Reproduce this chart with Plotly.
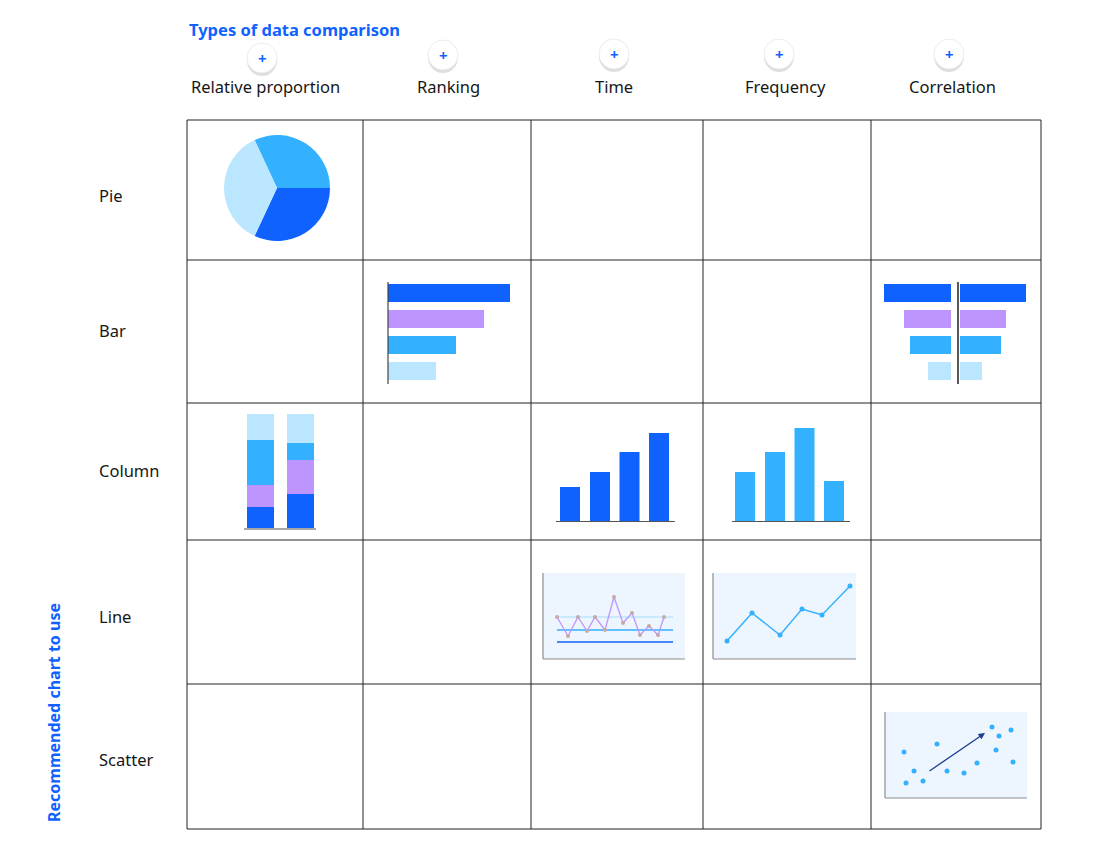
import plotly.graph_objects as go
import numpy as np

W, H = 1104, 864
OFF = 8  # page margin of the browser body
BLUE, PURPLE, MID, LIGHT = '#0f62fe', '#be95ff', '#33b1ff', '#bae6ff'
FONT = 'Noto Sans'

# header / rows
col_titles = ['Relative proportion', 'Ranking', 'Time', 'Frequency', 'Correlation']
col_centers = [265, 448, 614, 785, 952]
button_x = [262, 443, 614, 779, 949]
button_y = [58, 55, 54, 54, 54]
row_titles = ['Pie', 'Bar', 'Column', 'Line', 'Scatter']
row_centers = [195, 330, 470, 616, 759]
grid_x = [187, 363, 531, 703, 871, 1041]
grid_y = [120, 260, 403, 540, 684, 829]

# pie
pie_values = [115, 115, 130]
pie_colors = [MID, BLUE, LIGHT]

# ranking bars
rank_y = [293, 319, 345, 371]
rank_len = [122, 96, 68, 48]
bar_colors = [BLUE, PURPLE, MID, LIGHT]

# butterfly bars
fly_y = [293, 319, 345, 371]
fly_left = [67, 47, 41, 23]
fly_right = [66, 46, 41, 22]

# stacked columns (bottom -> top)
stack_x = [260.5, 300.5]
stack_heights = {
    BLUE: [21, 34],
    PURPLE: [22, 34],
    MID: [45, 17],
    LIGHT: [26, 29],
}

# time columns
time_x = [570, 600, 629.5, 659]
time_h = [34, 49, 69, 88]
# frequency columns
freq_x = [745, 775, 804.5, 834]
freq_h = [49, 69, 93, 40]

# line (time)
lt_x = [557, 568, 578, 587, 595, 605, 614, 623, 632, 640, 649, 658, 664]
lt_y = [617, 636, 617, 631, 617, 630, 597, 623, 613, 635, 626, 635, 617]
# line (frequency)
lf_x = [727, 752, 780, 802, 822, 850]
lf_y = [641, 613, 635, 609, 615, 586]

# scatter
sc_x = [904, 914, 906, 923, 937, 947, 964, 977, 992, 999, 996, 1011, 1013]
sc_y = [752, 771, 783, 781, 744, 771, 773, 763, 727, 736, 750, 730, 762]

fig = go.Figure()

fig.add_trace(go.Pie(values=pie_values, marker=dict(colors=pie_colors),
                     sort=False, direction='clockwise', rotation=335,
                     textinfo='none', hoverinfo='skip', showlegend=False,
                     domain=dict(x=[(224 - OFF) / W, (330 - OFF) / W],
                                 y=[1 - (241 - OFF) / H, 1 - (135 - OFF) / H])))

fig.add_trace(go.Bar(orientation='h', y=rank_y, x=rank_len, base=388, width=18,
                     marker=dict(color=bar_colors, line_width=0)))
fig.add_trace(go.Bar(orientation='h', y=fly_y, x=[-v for v in fly_left], base=951, width=18,
                     marker=dict(color=bar_colors, line_width=0)))
fig.add_trace(go.Bar(orientation='h', y=fly_y, x=fly_right, base=960, width=18,
                     marker=dict(color=bar_colors, line_width=0)))

bottom = np.array([528.0, 528.0])
for c, hs in stack_heights.items():
    hs = np.array(hs, dtype=float)
    fig.add_trace(go.Bar(x=stack_x, y=-hs, base=bottom, width=27,
                         marker=dict(color=c, line_width=0)))
    bottom = bottom - hs

fig.add_trace(go.Bar(x=time_x, y=[-h for h in time_h], base=521, width=20,
                     marker=dict(color=BLUE, line_width=0)))
fig.add_trace(go.Bar(x=freq_x, y=[-h for h in freq_h], base=521, width=20,
                     marker=dict(color=MID, line_width=0)))

fig.add_trace(go.Scatter(x=lt_x, y=lt_y, mode='lines+markers',
                         line=dict(color=PURPLE, width=1.3),
                         marker=dict(color='#c9a7a7', size=4)))
fig.add_trace(go.Scatter(x=lf_x, y=lf_y, mode='lines+markers',
                         line=dict(color=MID, width=1.5),
                         marker=dict(color=MID, size=5)))
fig.add_trace(go.Scatter(x=sc_x, y=sc_y, mode='markers',
                         marker=dict(color=MID, size=5)))

shapes = []
line = dict(color='#222', width=1)
for gx in grid_x:
    shapes.append(dict(type='line', x0=gx, x1=gx, y0=grid_y[0], y1=grid_y[-1], line=line, layer='below'))
for gy in grid_y:
    shapes.append(dict(type='line', x0=grid_x[0], x1=grid_x[-1], y0=gy, y1=gy, line=line, layer='below'))

# mini chart backgrounds & axes
for bx0, by0, bx1, by1 in [(543, 573, 685, 659), (713, 573, 856, 659), (885, 712, 1027, 798)]:
    shapes.append(dict(type='rect', x0=bx0, x1=bx1, y0=by0, y1=by1, fillcolor='#edf5ff',
                       line_width=0, layer='below'))
    shapes.append(dict(type='line', x0=bx0, x1=bx0, y0=by0, y1=by1, line=dict(color='#8d8d8d', width=1.2)))
    shapes.append(dict(type='line', x0=bx0, x1=bx1, y0=by1, y1=by1, line=dict(color='#8d8d8d', width=1.2)))
for ly, lc in [(617, LIGHT), (630, MID), (642, BLUE)]:
    shapes.append(dict(type='line', x0=557, x1=673, y0=ly, y1=ly, line=dict(color=lc, width=1.3), layer='below'))
shapes.append(dict(type='line', x0=388, x1=388, y0=282, y1=384, line=dict(color='#444', width=1.2)))
shapes.append(dict(type='line', x0=958, x1=958, y0=282, y1=384, line=dict(color='#222', width=1.5)))
for bx0, bx1, by in [(244, 316, 529), (556, 675, 521.5), (732, 850, 521.5)]:
    shapes.append(dict(type='line', x0=bx0, x1=bx1, y0=by, y1=by, line=dict(color='#555', width=1.2)))

# header buttons
for bx, by in zip(button_x, button_y):
    shapes.append(dict(type='circle', x0=bx - 15, x1=bx + 15, y0=by - 13, y1=by + 18,
                       fillcolor='rgba(0,0,0,0.13)', line_width=0))
    shapes.append(dict(type='circle', x0=bx - 15, x1=bx + 15, y0=by - 15, y1=by + 15,
                       fillcolor='white', line=dict(color='#e6e6e6', width=0.8)))

annotations = [dict(x=187, y=29, text='<b>Types of data comparison</b>', showarrow=False,
                    xanchor='left', font=dict(size=16.5, color=BLUE))]
for bx, by in zip(button_x, button_y):
    annotations.append(dict(x=bx, y=by, text='<b>+</b>', showarrow=False,
                            font=dict(size=15, color=BLUE)))
for t, cx in zip(col_titles, col_centers):
    annotations.append(dict(x=cx, y=86, text=t, showarrow=False, font=dict(size=16.5, color='#161616')))
for t, cy in zip(row_titles, row_centers):
    annotations.append(dict(x=97, y=cy, text=t, showarrow=False, xanchor='left',
                            font=dict(size=16.5, color='#161616')))
annotations.append(dict(x=54, y=713, text='<b>Recommended chart to use</b>', showarrow=False,
                        textangle=-90, font=dict(size=16, color=BLUE)))
annotations.append(dict(x=985, y=733, ax=928, ay=772, xref='x', yref='y', axref='x', ayref='y',
                        text='', showarrow=True, arrowhead=2, arrowsize=1, arrowwidth=1.3,
                        arrowcolor='#1c3f94'))

fig.update_layout(
    width=W, height=H, autosize=False,
    margin=dict(l=0, r=0, t=0, b=0),
    paper_bgcolor='white', plot_bgcolor='rgba(0,0,0,0)',
    showlegend=False, barmode='overlay',
    font=dict(family=FONT),
    xaxis=dict(range=[OFF, W + OFF], visible=False, fixedrange=True),
    yaxis=dict(range=[H + OFF, OFF], visible=False, fixedrange=True),
    shapes=shapes, annotations=annotations,
)

fig.write_html("out.html")
